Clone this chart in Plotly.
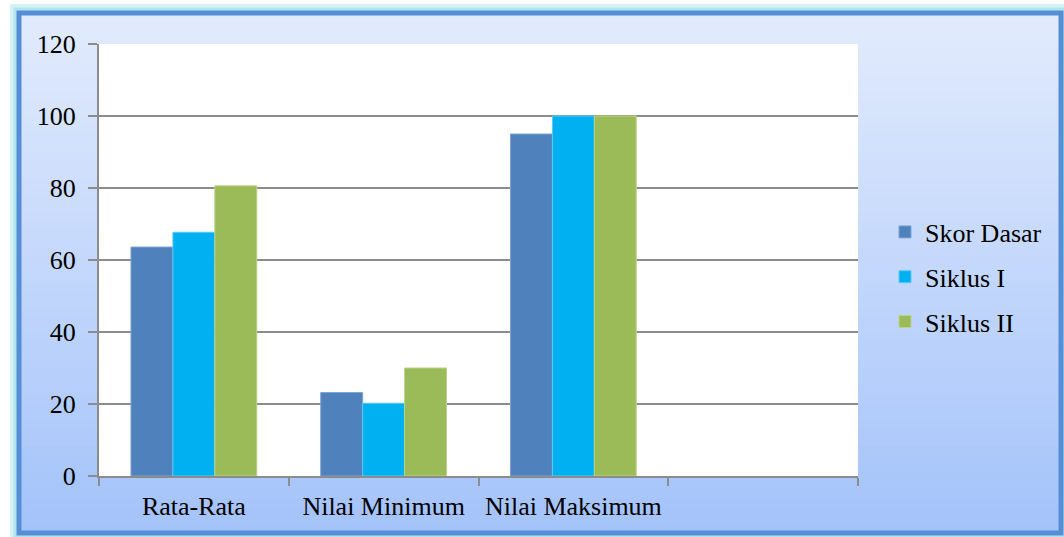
import plotly.graph_objects as go

categories = ["Rata-Rata", "Nilai Minimum", "Nilai Maksimum", " "]
skor_dasar = [63.6, 23.2, 95, None]
siklus_1 = [67.7, 20.2, 100, None]
siklus_2 = [80.6, 30, 100, None]
series_names = ["Skor Dasar", "Siklus I", "Siklus II"]
colors = ["#4F81BD", "#00B0F0", "#9BBB59"]
edge_colors = ["#7FA3D3", "#5CCBF5", "#BBD38A"]
y_ticks = [0, 20, 40, 60, 80, 100, 120]

W, H = 1064, 537
L, R, T, B = 99, 858, 44, 476  # plot area in pixels

def px(x):
    return (x - L) / (R - L)

def py(y):
    return (B - y) / (B - T)

FONT = "Liberation Serif, Times New Roman, serif"
FS = 26

fig = go.Figure()
for name, vals, c, ec in zip(series_names, [skor_dasar, siklus_1, siklus_2], colors, edge_colors):
    fig.add_trace(go.Bar(
        name=name, x=categories, y=vals,
        marker=dict(color=c, line=dict(color=ec, width=1)),
        legendgroup=name,
    ))

shapes = []
# outer glow
shapes.append(dict(type="rect", xref="paper", yref="paper", layer="below",
                   x0=px(16), x1=px(1064), y0=py(536), y1=py(10),
                   line=dict(color="#D4F1F6", width=12), fillcolor="rgba(0,0,0,0)"))
shapes.append(dict(type="rect", xref="paper", yref="paper", layer="below",
                   x0=px(17), x1=px(1063), y0=py(535), y1=py(11),
                   line=dict(color="#B3E4EE", width=7), fillcolor="rgba(0,0,0,0)"))
# gradient background stripes
n = 60
top_c = (226, 235, 253)
bot_c = (164, 195, 250)
y_top, y_bot = 13, 533
for i in range(n):
    t = i / (n - 1)
    c = tuple(int(round(top_c[k] + (bot_c[k] - top_c[k]) * t)) for k in range(3))
    ya = y_top + (y_bot - y_top) * i / n
    yb = y_top + (y_bot - y_top) * (i + 1) / n + 0.8
    shapes.append(dict(type="rect", xref="paper", yref="paper", layer="below",
                       x0=px(19), x1=px(1061), y0=py(yb), y1=py(ya),
                       line=dict(width=0), fillcolor="rgb(%d,%d,%d)" % c))
# white plot area
shapes.append(dict(type="rect", xref="paper", yref="paper", layer="below",
                   x0=0, x1=1, y0=0, y1=1, line=dict(width=0), fillcolor="white"))
# blue frame
shapes.append(dict(type="rect", xref="paper", yref="paper", layer="above",
                   x0=px(19), x1=px(1061), y0=py(533), y1=py(13),
                   line=dict(color="#558ED5", width=5), fillcolor="rgba(0,0,0,0)"))

fig.update_layout(
    width=W, height=H,
    margin=dict(l=L, r=W - R, t=T, b=H - B, pad=0),
    paper_bgcolor="white",
    plot_bgcolor="white",
    barmode="group", bargap=0.337, bargroupgap=0,
    font=dict(family=FONT, size=FS, color="black"),
    shapes=shapes,
    showlegend=True,
    legend=dict(x=px(885), y=py(277), xanchor="left", yanchor="middle",
                bgcolor="rgba(0,0,0,0)", font=dict(family=FONT, size=FS),
                tracegroupgap=8, traceorder="grouped"),
    xaxis=dict(type="category", categoryorder="array", categoryarray=categories,
               range=[-0.5, 3.5], tickson="boundaries", ticks="outside", ticklen=8,
               tickcolor="#8C8C8C", tickwidth=2, showline=True, linecolor="#8C8C8C",
               linewidth=2, showgrid=False, tickfont=dict(family=FONT, size=FS),
               ticklabelstandoff=6, fixedrange=True),
    yaxis=dict(range=[0, 120], tickvals=y_ticks, ticks="outside", ticklen=9,
               tickcolor="#8C8C8C", tickwidth=2, showline=True, linecolor="#8C8C8C",
               linewidth=2, showgrid=True, gridcolor="#8C8C8C", gridwidth=2,
               zeroline=False, tickfont=dict(family=FONT, size=FS),
               ticklabelstandoff=7, fixedrange=True),
)

fig.write_html("out.html", config={"displayModeBar": False},
               post_script="document.body.style.margin='0';document.body.style.overflow='hidden';")
